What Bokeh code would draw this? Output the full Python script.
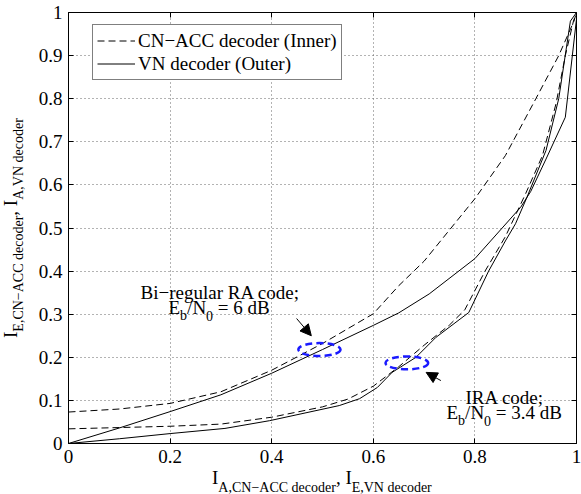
import math
from bokeh.plotting import figure
from bokeh.models import (Label, Arrow, NormalHead, FixedTicker, LinearAxis,
                          CustomJSTickFormatter, Legend, LegendItem, Div)
from bokeh.layouts import row, column
from bokeh.embed import file_html
from bokeh.resources import INLINE

# ---------------- data ----------------
x_ticks = [0, 0.2, 0.4, 0.6, 0.8, 1.0]
x_tick_labels = ["0", "0.2", "0.4", "0.6", "0.8", "1"]
y_ticks = [0, 0.1, 0.2, 0.3, 0.4, 0.5, 0.6, 0.7, 0.8, 0.9, 1.0]
y_tick_labels = ["0", "0.1", "0.2", "0.3", "0.4", "0.5", "0.6", "0.7", "0.8", "0.9", "1"]

# Bi-regular RA code, Eb/N0 = 6 dB
ra_cn_x = [0, 0.1, 0.2, 0.3, 0.4, 0.5, 0.6, 0.65, 0.7, 0.8, 0.86, 0.92, 0.965, 0.995, 1.0]
ra_cn_y = [0.073, 0.08, 0.093, 0.12, 0.17, 0.232, 0.301, 0.366, 0.423, 0.568, 0.668, 0.80, 0.90, 0.98, 1.0]
ra_vn_x = [0, 0.1, 0.2, 0.3, 0.4, 0.5, 0.6, 0.65, 0.71, 0.8, 0.89, 0.91, 0.94, 0.978, 1.0]
ra_vn_y = [0, 0.036, 0.074, 0.113, 0.163, 0.218, 0.274, 0.303, 0.347, 0.429, 0.548, 0.585, 0.66, 0.757, 0.985]

# IRA code, Eb/N0 = 3.4 dB
ira_cn_x = [0, 0.1, 0.2, 0.3, 0.4, 0.5, 0.55, 0.6, 0.65, 0.7, 0.75, 0.78, 0.82, 0.86, 0.9, 0.933, 0.96, 0.978, 0.994, 1.0]
ira_cn_y = [0.034, 0.037, 0.040, 0.045, 0.061, 0.085, 0.103, 0.133, 0.178, 0.228, 0.275, 0.31, 0.40, 0.48, 0.58, 0.668, 0.79, 0.90, 0.98, 1.0]
ira_vn_x = [0, 0.1, 0.2, 0.308, 0.396, 0.533, 0.573, 0.608, 0.637, 0.684, 0.723, 0.788, 0.827, 0.86, 0.88, 0.902, 0.94, 0.965, 0.988, 1.0]
ira_vn_y = [0, 0.011, 0.023, 0.035, 0.053, 0.088, 0.104, 0.13, 0.165, 0.20, 0.246, 0.304, 0.40, 0.47, 0.51, 0.57, 0.68, 0.80, 0.98, 1.0]

legend_labels = ["CN\u2212ACC decoder (Inner)", "VN decoder (Outer)"]
x_label_parts = ["I", "A,CN\u2212ACC decoder", ", I", "E,VN decoder"]
y_label_parts = ["I", "E,CN\u2212ACC decoder", ", I", "A,VN decoder"]

# annotation marks
ellipse_x = [0.494, 0.666]
ellipse_y = [0.218, 0.187]
ellipse_w = [0.083, 0.084]
ellipse_h = [0.030, 0.030]
arrow_start = [(0.449, 0.290), (0.733, 0.146)]
arrow_end = [(0.478, 0.250), (0.704, 0.165)]

FONT = "Liberation Serif"

# page layout (Bokeh's page template has no body margin)
YLAB_W = 26            # width of the y-label strip
FIG_H = 471            # figure height; x-label strip below it
FL, FR, FT, FB = 68, 576, 12, 443   # frame in page pixels

p = figure(width=581 - YLAB_W, height=FIG_H, x_range=(0, 1), y_range=(0, 1),
           output_backend="svg", toolbar_location=None,
           min_border_left=FL - YLAB_W, min_border_right=581 - FR, min_border_top=FT,
           min_border_bottom=FIG_H - FB)
p.background_fill_color = "white"
p.border_fill_color = "white"
p.outline_line_color = "black"
p.outline_line_width = 1

xt = FixedTicker(ticks=x_ticks)
yt = FixedTicker(ticks=y_ticks)
for ax, tk, labs in ((p.xaxis[0], xt, dict(zip(x_ticks, x_tick_labels))),
                     (p.yaxis[0], yt, dict(zip(y_ticks, y_tick_labels)))):
    ax.ticker = tk
    ax.major_label_overrides = labs
    ax.major_tick_in = 5
    ax.major_tick_out = 0
    ax.minor_tick_line_color = None
    ax.axis_line_color = "black"
    ax.major_tick_line_color = "black"
    ax.major_label_text_font = FONT
    ax.major_label_text_font_size = "19px"
    ax.major_label_text_color = "black"
    ax.major_label_standoff = 6

p.xgrid.ticker = xt
p.ygrid.ticker = yt
for g in (p.xgrid, p.ygrid):
    g.grid_line_color = "#666666"
    g.grid_line_dash = "1 3"
    g.grid_line_width = 1

empty = CustomJSTickFormatter(code="return ''")
top_ax = LinearAxis(ticker=xt, formatter=empty, major_tick_in=5, major_tick_out=0,
                    minor_tick_line_color=None, axis_line_color=None,
                    major_label_text_font_size="0px", major_label_standoff=0)
right_ax = LinearAxis(ticker=yt, formatter=empty, major_tick_in=5, major_tick_out=0,
                      minor_tick_line_color=None, axis_line_color=None,
                      major_label_text_font_size="0px", major_label_standoff=0)
p.add_layout(top_ax, "above")
p.add_layout(right_ax, "right")

DASH = "7 4"
r1 = p.line(ra_cn_x, ra_cn_y, line_color="black", line_width=1, line_dash=DASH)
r2 = p.line(ra_vn_x, ra_vn_y, line_color="black", line_width=1)
p.line(ira_cn_x, ira_cn_y, line_color="black", line_width=1, line_dash=DASH)
p.line(ira_vn_x, ira_vn_y, line_color="black", line_width=1)

p.ellipse(x=ellipse_x, y=ellipse_y, width=ellipse_w, height=ellipse_h,
          fill_color=None, line_color="#1a1aff", line_width=2.5, line_dash="7 4")

for (xs, ys), (xe, ye) in zip(arrow_start, arrow_end):
    p.add_layout(Arrow(end=NormalHead(size=11, fill_color="black", line_color="black", line_width=1),
                       x_start=xs, y_start=ys, x_end=xe, y_end=ye,
                       line_color="black", line_width=1))

legend = Legend(items=[LegendItem(label=legend_labels[0], renderers=[r1]),
                       LegendItem(label=legend_labels[1], renderers=[r2])],
                location=(92 - FL, FB - 80))
legend.label_text_font = FONT
legend.label_text_font_size = "19px"
legend.label_text_color = "black"
legend.glyph_width = 38
legend.glyph_height = 23
legend.label_height = 23
legend.label_standoff = 3
legend.padding = 4
legend.spacing = 0
legend.margin = 0
legend.border_line_color = "black"
legend.border_line_width = 1
legend.background_fill_alpha = 1
p.add_layout(legend, "center")

# ------------- rich text helper for labels inside the frame -------------
W = {' ': 250, ',': 250, '.': 250, '/': 278, '=': 564, '\u2212': 564, ';': 278, '(': 333, ')': 333,
     'A': 722, 'B': 667, 'C': 667, 'D': 722, 'E': 611, 'I': 333, 'N': 722, 'R': 667, 'V': 722, 'O': 722,
     'a': 444, 'b': 500, 'c': 444, 'd': 500, 'e': 444, 'g': 500, 'i': 278, 'l': 278, 'n': 500,
     'o': 500, 'r': 333, 't': 278, 'u': 500}


def tw(s, size):
    return sum(W.get(ch, 500) for ch in s) * size / 1000.0


def to_data(px, py):
    return (px - FL) / float(FR - FL), (FB - py) / float(FB - FT)


def rich(pieces, x0, y0):
    """pieces: (text, font size, baseline drop, extra gap before); page px coords"""
    pos = x0
    for text, size, drop, gap in pieces:
        pos += gap
        dx, dy = to_data(pos, y0 + drop)
        p.add_layout(Label(x=dx, y=dy, text=text, text_font=FONT,
                           text_font_size=f"{size}px", text_align="left",
                           text_baseline="alphabetic", text_color="black"))
        pos += tw(text, size)


BIG, SUB, DROP = 19, 14, 8
SP = tw(" ", BIG)
rich([("Bi\u2212regular RA code;", BIG, 0, 0)], 140, 292)
rich([("E", BIG, 0, 0), ("b", SUB, DROP, 0), ("/N", BIG, 0, 0), ("0", SUB, DROP, 0),
      ("= 6 dB", BIG, 0, SP)], 168, 307)
rich([("IRA code;", BIG, 0, 0)], 465, 397)
rich([("E", BIG, 0, 0), ("b", SUB, DROP, 0), ("/N", BIG, 0, 0), ("0", SUB, DROP, 0),
      ("= 3.4 dB", BIG, 0, SP)], 446, 412)


# ------------- axis labels as HTML strips around the figure -------------
def sub_html(parts, drop):
    s = f"<span style='font-size:{SUB}px;vertical-align:-{drop}px;line-height:19px'>"
    return (parts[0] + s + parts[1] + "</span>" + parts[2] + s + parts[3] + "</span>")


span_css = (f"position:absolute;white-space:nowrap;font-family:'{FONT}';font-size:{BIG}px;"
            "line-height:19px;color:black;")

x_html = (f"<div style='position:relative;width:581px;height:{494 - FIG_H}px;'>"
          f"<span style=\"{span_css}left:212px;top:{484 - FIG_H - 16}px;\">"
          + sub_html(x_label_parts, 8) + "</span></div>")
y_html = (f"<div style='position:relative;width:{YLAB_W}px;height:{FIG_H}px;'>"
          f"<span style=\"{span_css}left:1px;top:338px;transform:rotate(-90deg);"
          "transform-origin:0 0;\">" + sub_html(y_label_parts, 6) + "</span></div>")

xdiv = Div(text=x_html, width=581, height=494 - FIG_H, margin=0,
           styles={"overflow": "visible"})
ydiv = Div(text=y_html, width=YLAB_W, height=FIG_H, margin=0,
           styles={"overflow": "visible"})

layout = column(row(ydiv, p, spacing=0), xdiv, spacing=0)
open("out.html", "w").write(file_html(layout, INLINE))
